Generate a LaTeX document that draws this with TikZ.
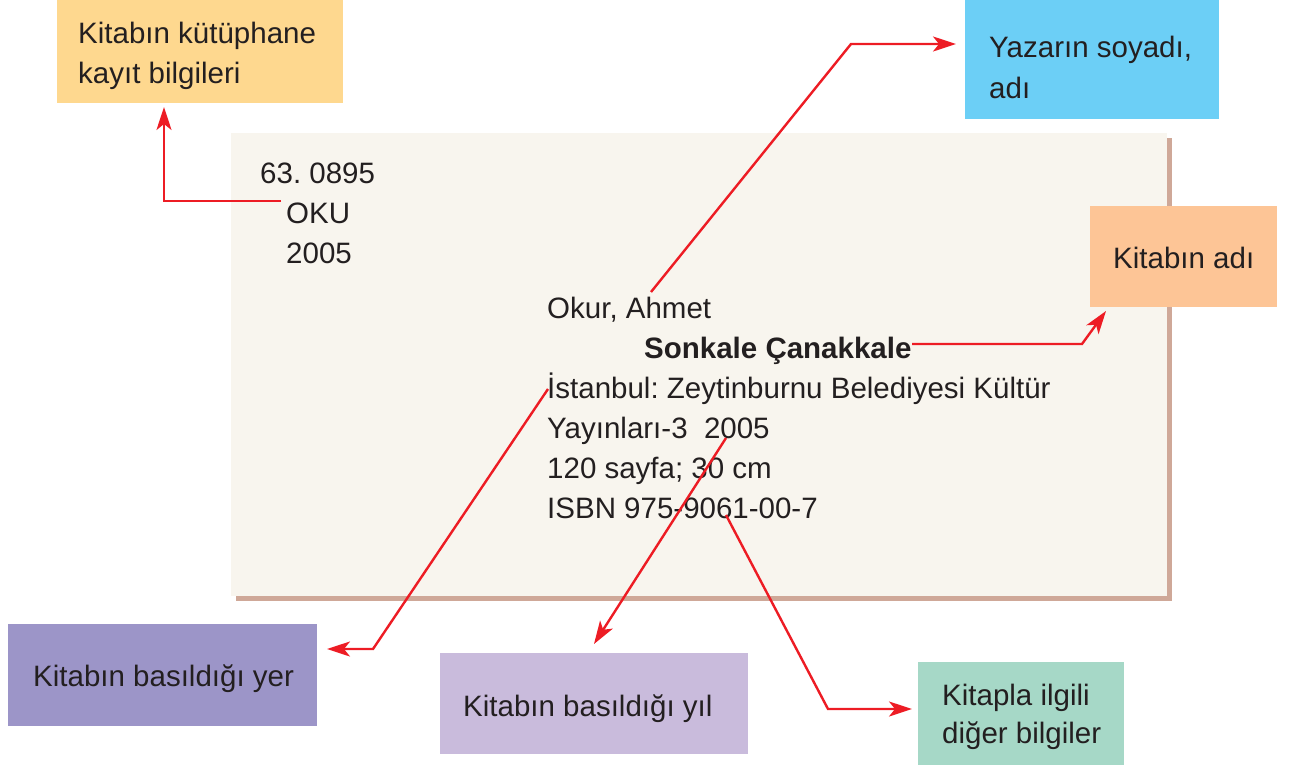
\documentclass[tikz,border=0pt]{standalone}
\usepackage{fontspec}
\setmainfont{Liberation Sans}
\usetikzlibrary{arrows.meta}
\frenchspacing
\definecolor{cardfill}{HTML}{F8F5EE}
\definecolor{shadowc}{HTML}{CFA898}
\definecolor{ckayit}{HTML}{FED88F}
\definecolor{cyazar}{HTML}{6CCFF6}
\definecolor{cadi}{HTML}{FDC596}
\definecolor{cyer}{HTML}{9C95C8}
\definecolor{cyil}{HTML}{C9BBDC}
\definecolor{cdiger}{HTML}{A6D8C7}
\definecolor{cred}{HTML}{ED1C24}
\definecolor{ctext}{HTML}{231F20}
\tikzset{
  box/.style={draw=none, anchor=north west, inner sep=0pt},
  txt/.style={anchor=base west, inner sep=0pt, text=ctext, font=\fontsize{29.5}{40}\selectfont\frenchspacing},
  conn/.style={draw=cred, line width=2.4pt, line join=miter, -{Stealth[length=23pt,width=15pt,inset=6pt]}}
}
\begin{document}
\begin{tikzpicture}[x=1pt,y=-1pt]
\useasboundingbox (0,0) rectangle (1291,766);
% card with shadow
\fill[shadowc] (236,138) rectangle (1172,601);
\node[box, fill=cardfill, minimum width=936pt, minimum height=463pt] (card) at (231,133) {};
% label boxes
\node[box, fill=ckayit, minimum width=286pt, minimum height=103pt] (kayit) at (57,0) {};
\node[box, fill=cyazar, minimum width=254pt, minimum height=119pt] (yazar) at (965,0) {};
\node[box, fill=cadi, minimum width=187pt, minimum height=101pt] (adi) at (1090,206) {};
\node[box, fill=cyer, minimum width=309pt, minimum height=102pt] (yer) at (8,624) {};
\node[box, fill=cyil, minimum width=308pt, minimum height=101pt] (yil) at (440,653) {};
\node[box, fill=cdiger, minimum width=206pt, minimum height=103pt] (diger) at (918,662) {};
% label texts
\node[txt] (t1a) at (78,43) {Kitabın kütüphane};
\node[txt] (t1b) at (78,83) {kayıt bilgileri};
\node[txt] (t2a) at (989,57) {Yazarın soyadı,};
\node[txt] (t2b) at (989,98) {adı};
\node[txt] (t3) at (1113,268) {Kitabın adı};
\node[txt] (t4) at (33,686) {Kitabın basıldığı yer};
\node[txt] (t5) at (463,716) {Kitabın basıldığı yıl};
\node[txt] (t6a) at (942,705) {Kitapla ilgili};
\node[txt] (t6b) at (942,743) {diğer bilgiler};
% card texts
\node[txt] (c1) at (260,183) {63. 0895};
\node[txt] (c2) at (286,223) {OKU};
\node[txt] (c3) at (286,263) {2005};
\node[txt] (c4) at (547,318) {Okur, Ahmet};
\node[txt, font=\fontsize{29.5}{40}\selectfont\bfseries] (c5) at (644,358) {Sonkale Çanakkale};
\node[txt] (c6) at (547,398) {İstanbul: Zeytinburnu Belediyesi Kültür};
\node[txt] (c7) at (547,438) {Yayınları-3\ \ 2005};
\node[txt] (c8) at (547,478) {120 sayfa; 30 cm};
\node[txt] (c9) at (547,518) {ISBN 975-9061-00-7};
% connector points
\coordinate (s1) at (281,201); \coordinate (k1) at (164,201); \coordinate (e1) at (164,107);
\coordinate (s2) at (651,292); \coordinate (k2) at (851,44);  \coordinate (e2) at (956,44);
\coordinate (s3) at (912,344); \coordinate (k3) at (1082,344); \coordinate (e3) at (1106,311);
\coordinate (s4) at (548,389); \coordinate (k4) at (373,649); \coordinate (e4) at (327,649);
\coordinate (s5) at (726,438); \coordinate (e5) at (594,644);
\coordinate (s6) at (726,515); \coordinate (k6) at (828,709); \coordinate (e6) at (912,709);
% connectors
\draw[conn] (s1) -- (k1) -- (e1);
\draw[conn] (s2) -- (k2) -- (e2);
\draw[conn] (s3) -- (k3) -- (e3);
\draw[conn] (s4) -- (k4) -- (e4);
\draw[conn] (s5) -- (e5);
\draw[conn] (s6) -- (k6) -- (e6);
\end{tikzpicture}
\end{document}
